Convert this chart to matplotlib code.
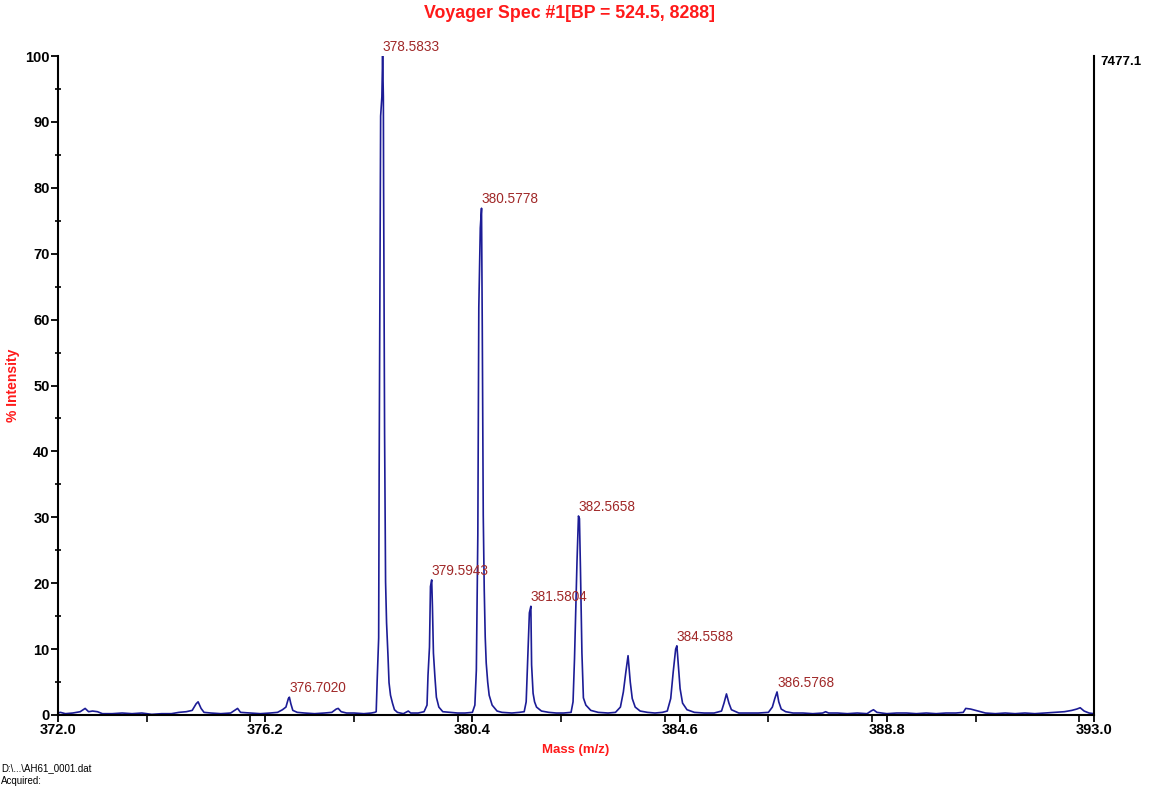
import matplotlib
matplotlib.use("Agg")
import matplotlib.pyplot as plt
from matplotlib.ticker import MultipleLocator

plt.rcParams['font.family'] = ['Liberation Sans', 'DejaVu Sans']

# spectrum (m/z, % intensity)
mass = [
    372.00, 372.05, 372.15, 372.30, 372.45, 372.55, 372.62, 372.70, 372.80, 372.90,
    373.10, 373.30, 373.50, 373.70, 373.90, 374.10, 374.30, 374.45, 374.60, 374.72,
    374.80, 374.84, 374.90, 374.96, 375.10, 375.30, 375.50, 375.60, 375.64, 375.70,
    375.90, 376.10, 376.30, 376.45, 376.55, 376.62, 376.67, 376.69, 376.72, 376.76,
    376.85, 377.00, 377.20, 377.40, 377.55, 377.64, 377.68, 377.74, 377.85, 378.00,
    378.20, 378.35, 378.42, 378.45,
    378.47, 378.50, 378.51, 378.54, 378.565, 378.58, 378.595, 378.60, 378.62, 378.64,
    378.66, 378.69, 378.71, 378.74, 378.78, 378.82, 378.88, 379.00, 379.10, 379.15,
    379.30, 379.42, 379.48, 379.50, 379.53, 379.55, 379.575, 379.59, 379.61, 379.64,
    379.67, 379.72, 379.80, 379.95, 380.10, 380.25, 380.40, 380.45, 380.48, 380.51,
    380.53, 380.56, 380.585, 380.60, 380.62, 380.64, 380.66, 380.68, 380.71, 380.74,
    380.80, 380.90, 381.00, 381.20, 381.35, 381.45, 381.49, 381.52, 381.555, 381.585,
    381.60, 381.63, 381.66, 381.70, 381.80, 381.95, 382.10, 382.25, 382.40, 382.44,
    382.47, 382.52, 382.55, 382.57, 382.59, 382.62, 382.65, 382.70, 382.80, 382.95,
    383.15, 383.30, 383.40, 383.46, 383.51, 383.555, 383.60, 383.64, 383.70, 383.80,
    383.95, 384.10, 384.25, 384.35, 384.42, 384.47, 384.52, 384.545, 384.57, 384.61,
    384.66, 384.75, 384.90, 385.10, 385.30, 385.45, 385.50, 385.55, 385.60, 385.65,
    385.80, 386.00, 386.20, 386.40, 386.48, 386.53, 386.575, 386.61, 386.66, 386.75,
    386.90, 387.10, 387.30, 387.50, 387.56, 387.62, 387.80, 388.00, 388.20, 388.40,
    388.48, 388.53, 388.60, 388.80, 389.00, 389.20, 389.40, 389.60, 389.80, 390.00,
    390.20, 390.35, 390.40, 390.50, 390.60, 390.70, 390.80, 391.00, 391.20, 391.40,
    391.60, 391.80, 392.00, 392.20, 392.40, 392.55, 392.65, 392.72, 392.80, 392.90,
    393.00,
]
intensity = [
    0.3, 0.4, 0.2, 0.3, 0.5, 1.0, 0.5, 0.6, 0.5, 0.2,
    0.2, 0.3, 0.2, 0.3, 0.1, 0.2, 0.2, 0.4, 0.5, 0.7,
    1.7, 2.0, 1.0, 0.4, 0.3, 0.2, 0.3, 0.8, 1.0, 0.4,
    0.3, 0.2, 0.3, 0.4, 0.8, 1.2, 2.5, 2.7, 1.7, 0.7,
    0.4, 0.3, 0.2, 0.3, 0.4, 0.9, 1.0, 0.5, 0.3, 0.3,
    0.2, 0.3, 0.4, 0.5,
    5.3, 11.7, 37.2, 90.9, 93.8, 100.0, 93.8, 80.4, 42.8, 20.2,
    14.0, 8.8, 4.9, 3.0, 1.8, 0.8, 0.4, 0.2, 0.6, 0.3,
    0.3, 0.5, 1.5, 6.0, 10.3, 19.5, 20.5, 16.4, 9.4, 5.8,
    2.7, 1.2, 0.5, 0.4, 0.3, 0.3, 0.4, 1.5, 6.8, 27.3,
    61.9, 73.9, 76.9, 58.9, 30.3, 19.0, 11.8, 7.9, 5.0, 3.0,
    1.5, 0.6, 0.4, 0.3, 0.4, 0.5, 2.0, 8.3, 15.5, 16.5,
    7.6, 3.3, 2.0, 1.2, 0.6, 0.4, 0.3, 0.3, 0.4, 2.0,
    8.6, 23.2, 30.2, 29.8, 22.3, 9.4, 2.6, 1.5, 0.7, 0.4,
    0.3, 0.4, 1.2, 3.5, 6.5, 9.0, 5.0, 2.5, 1.2, 0.6,
    0.4, 0.3, 0.4, 0.6, 2.5, 6.5, 10.0, 10.5, 8.0, 4.0,
    1.8, 0.8, 0.4, 0.3, 0.3, 0.6, 1.8, 3.2, 1.8, 0.8,
    0.3, 0.3, 0.3, 0.4, 1.2, 2.5, 3.5, 2.0, 0.9, 0.5,
    0.3, 0.3, 0.2, 0.3, 0.5, 0.3, 0.3, 0.2, 0.3, 0.2,
    0.6, 0.8, 0.4, 0.2, 0.3, 0.3, 0.2, 0.3, 0.2, 0.3,
    0.3, 0.4, 1.0, 0.9, 0.7, 0.5, 0.3, 0.2, 0.3, 0.2,
    0.3, 0.2, 0.3, 0.4, 0.5, 0.7, 0.9, 1.1, 0.6, 0.3,
    0.2,
]

# labelled peaks
peak_mass = [376.69, 378.58, 379.575, 380.585, 381.585, 382.55, 384.545, 386.575]
peak_int = [2.7, 100.0, 20.5, 76.9, 16.5, 30.2, 10.5, 3.5]
peak_text = ["376.7020", "378.5833", "379.5943", "380.5778",
             "381.5804", "382.5658", "384.5588", "386.5768"]

x_ticks = [372.0, 376.2, 380.4, 384.6, 388.8, 393.0]

fig = plt.figure(figsize=(11.49, 7.87), dpi=100)
ax = fig.add_axes([58 / 1149, 1 - 715 / 787, (1094 - 58) / 1149, (715 - 56) / 787])

ax.plot(mass, intensity, color='#1c1c96', lw=1.2)

for m, v, t in zip(peak_mass, peak_int, peak_text):
    ax.annotate(t, (m, v), xytext=(0, 1.5), textcoords='offset points',
                ha='left', va='bottom', fontsize=9.8, color='#a02828')

ax.set_xlim(372.0, 393.0)
ax.set_ylim(0, 100)
ax.set_xticks(x_ticks)
ax.set_xticklabels([f"{t:.1f}" for t in x_ticks])
ax.xaxis.set_minor_locator(MultipleLocator(2.1))
ax.yaxis.set_major_locator(MultipleLocator(10))
ax.yaxis.set_minor_locator(MultipleLocator(5))

ax.spines['top'].set_visible(False)
for s in ['left', 'right', 'bottom']:
    ax.spines[s].set_linewidth(1.5)
    ax.spines[s].set_color('black')

ax.tick_params(axis='both', which='major', length=5, width=1.3, pad=1)
ax.tick_params(axis='y', which='minor', direction='inout', length=5, width=1.2)
ax.tick_params(axis='x', which='minor', length=5, width=1.2)
for lab in ax.get_xticklabels() + ax.get_yticklabels():
    lab.set_fontweight('bold')
    lab.set_fontsize(10.5)

ax.set_xlabel('Mass (m/z)', color='#ff1a1a', fontweight='bold', fontsize=9.5, labelpad=5)
ax.set_ylabel('% Intensity', color='#ff1a1a', fontweight='bold', fontsize=10)
ax.yaxis.set_label_coords(-0.037, 0.5)

fig.text(570 / 1149, 1 - 14 / 787, 'Voyager Spec #1[BP = 524.5, 8288]', color='#ff1a1a',
         fontweight='bold', fontsize=12.8, ha='center', va='center')
fig.text(1100 / 1149, 1 - 62 / 787, '7477.1', fontweight='bold', fontsize=9.5,
         ha='left', va='center')
fig.text(1 / 1149, 1 - 768 / 787, 'D:\\...\\AH61_0001.dat', fontsize=7, ha='left', va='center')
fig.text(1 / 1149, 1 - 781 / 787, 'Acquired:', fontsize=7, ha='left', va='center')

fig.savefig('out.png', dpi=100)
